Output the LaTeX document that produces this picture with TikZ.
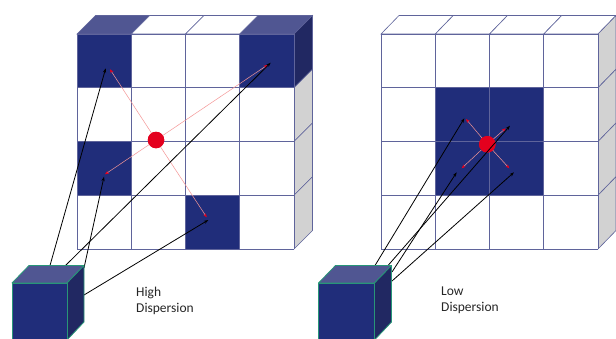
\documentclass[tikz,border=0pt]{standalone}
\usepackage{fontspec}
\setmainfont{Carlito}
\usetikzlibrary{arrows.meta}
\definecolor{navy}{RGB}{32,45,122}
\definecolor{topnavy}{RGB}{80,86,146}
\definecolor{sidenavy}{RGB}{33,40,98}
\definecolor{gridc}{RGB}{95,100,155}
\definecolor{sidegray}{RGB}{210,210,210}
\definecolor{tealedge}{RGB}{40,150,120}
\definecolor{dotred}{RGB}{228,0,30}
\definecolor{pinkline}{RGB}{245,150,150}
\begin{document}
\begin{tikzpicture}[x=1pt,y=-1pt,
  gl/.style={draw=gridc,line width=0.6pt},
  blackarrow/.style={black,line width=0.8pt,-{Stealth[length=4.5pt,width=3.2pt]}},
  redarrow/.style={pinkline,line width=0.5pt,-{Stealth[length=4pt,width=3.2pt,color=dotred]}},
  reddot/.style={circle,fill=dotred,draw=none,minimum size=16.5pt,inner sep=0pt},
  cubeedge/.style={draw=tealedge,line width=0.8pt,line join=round},
  lbl/.style={font=\fontsize{13.5pt}{16pt}\selectfont,align=left,anchor=north west,inner sep=0pt,text=black!85}
]
\useasboundingbox (0,0) rectangle (616,338);
\fill[white] (0,0) rectangle (616,338);

% ================= LEFT GRID =================
\foreach \c/\f in {0/topnavy,1/white,2/white,3/topnavy}
  \filldraw[fill=\f,gl] ({77+\c*54.25},34) -- ++(18.5,-18.5) -- ++(54.25,0) -- ++(-18.5,18.5) -- cycle;
\foreach \r/\f in {0/sidenavy,1/sidegray,2/sidegray,3/sidegray}
  \filldraw[fill=\f,gl] (294,{34+\r*53.75}) -- ++(18.5,-18.5) -- ++(0,53.75) -- ++(-18.5,18.5) -- cycle;
\fill[white] (77,34) rectangle (294,249);
\foreach \c/\r in {0/0,3/0,0/2,2/3}
  \fill[navy] ({77+\c*54.25},{34+\r*53.75}) rectangle ++(54.25,53.75);
\foreach \i in {0,...,4} {
  \draw[gl] ({77+\i*54.25},34) -- ({77+\i*54.25},249);
  \draw[gl] (77,{34+\i*53.75}) -- (294,{34+\i*53.75});
}

% ================= RIGHT GRID =================
\foreach \c in {0,...,3}
  \filldraw[fill=white,gl] ({381+\c*54.25},34) -- ++(18,-18.5) -- ++(54.25,0) -- ++(-18,18.5) -- cycle;
\foreach \r in {0,...,3}
  \filldraw[fill=sidegray,gl] (598,{34+\r*53.75}) -- ++(18,-18.5) -- ++(0,53.75) -- ++(-18,18.5) -- cycle;
\fill[white] (381,34) rectangle (598,249);
\fill[navy] (435.25,87.75) rectangle (543.75,195.25);
\foreach \i in {0,...,4} {
  \draw[gl] ({381+\i*54.25},34) -- ({381+\i*54.25},249);
  \draw[gl] (381,{34+\i*53.75}) -- (598,{34+\i*53.75});
}

% ================= POINTS =================
\node[reddot] (dotL) at (156,140) {};
\node[reddot] (dotR) at (487.3,144.3) {};

\coordinate (rL1) at (110,69.3);
\coordinate (rL2) at (267.5,65);
\coordinate (rL3) at (105,174.3);
\coordinate (rL4) at (206.7,217.3);
\coordinate (bL1) at (105.7,68.3);
\coordinate (bL2) at (270.7,62.7);
\coordinate (bL3) at (104,176.7);
\coordinate (bL4) at (208.3,220);

\coordinate (rR1) at (466,119);
\coordinate (rR2) at (505.7,128.3);
\coordinate (rR3) at (461.7,168.3);
\coordinate (rR4) at (509.3,168.3);
\coordinate (bR1) at (464.3,118.3);
\coordinate (bR2) at (510,125.7);
\coordinate (bR3) at (456.7,172.3);
\coordinate (bR4) at (514,172.3);

\coordinate (sL1) at (50,265.5);
\coordinate (sL2) at (65.5,265.5);
\coordinate (sL3) at (84,268);
\coordinate (sL4) at (84,295);
\coordinate (sR1) at (375,265.5);
\coordinate (sR2) at (388,265.5);
\coordinate (sR3) at (392,272);
\coordinate (sR4) at (392,281);

% red dispersion lines
\foreach \k in {1,...,4} {
  \draw[redarrow] (dotL.center) -- (rL\k);
  \draw[redarrow] (dotR.center) -- (rR\k);
}
\node[reddot] at (dotL) {};
\node[reddot] at (dotR) {};

% black arrows
\foreach \k in {1,...,4} {
  \draw[blackarrow] (sL\k) -- (bL\k);
  \draw[blackarrow] (sR\k) -- (bR\k);
}

% ================= SMALL CUBES =================
\filldraw[fill=topnavy,cubeedge] (12,283) -- (29,265.5) -- (84,265.5) -- (67,283) -- cycle;
\filldraw[fill=sidenavy,cubeedge] (67,283) -- (84,265.5) -- (84,322) -- (67,340) -- cycle;
\filldraw[fill=navy,cubeedge] (12,283) rectangle (67,345);

\filldraw[fill=topnavy,cubeedge] (318.5,283) -- (335.5,265.5) -- (391.5,265.5) -- (374.5,283) -- cycle;
\filldraw[fill=sidenavy,cubeedge] (374.5,283) -- (391.5,265.5) -- (391.5,322) -- (374.5,340) -- cycle;
\filldraw[fill=navy,cubeedge] (318.5,283) rectangle (374.5,345);

% ================= LABELS =================
\node[lbl] (hi) at (136,286.5) {High\\Dispersion};
\node[lbl] (lo) at (441,287) {Low\\Dispersion};
\end{tikzpicture}
\end{document}
